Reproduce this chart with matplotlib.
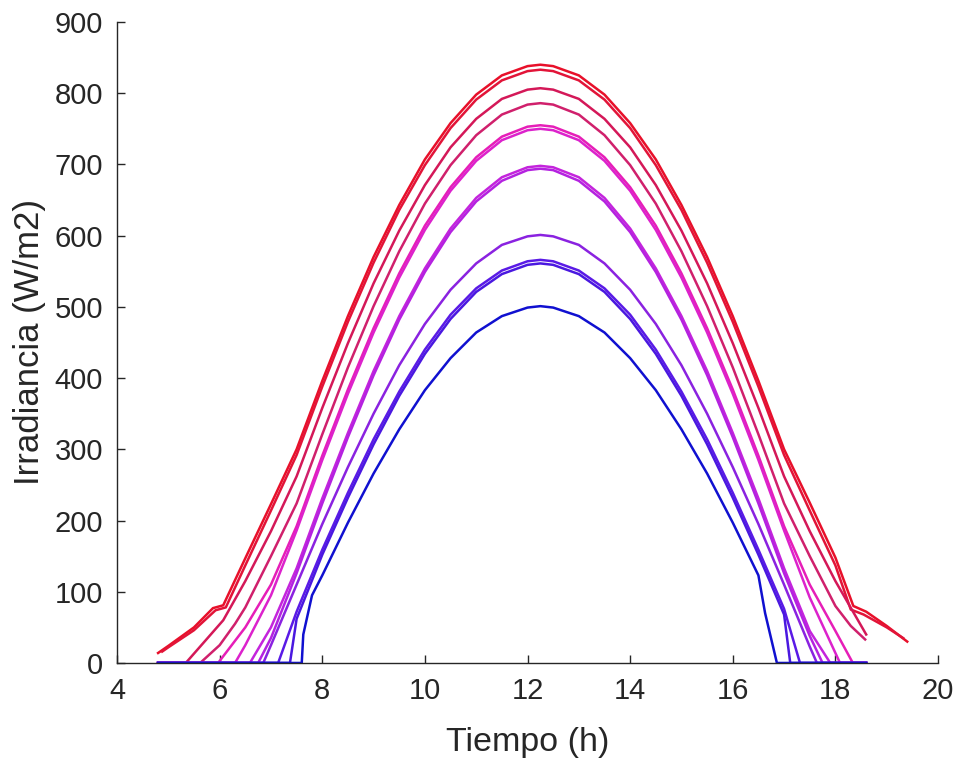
import numpy as np
import matplotlib
matplotlib.use("Agg")
import matplotlib.pyplot as plt

plt.rcParams['font.family'] = ['Liberation Sans', 'DejaVu Sans']

# hours shared by the central part of most curves
mid_hours = [8.0, 8.5, 9.0, 9.5, 10.0, 10.5, 11.0, 11.5, 12.0, 12.25, 12.5,
             13.0, 13.5, 14.0, 14.5, 15.0, 15.5, 16.0, 16.5, 17.0]

# curve with peak ~840 (red)
t_840 = [4.80, 5.00, 5.50, 5.87, 6.07, 6.50, 7.00, 7.50] + mid_hours + [17.50, 18.00, 18.35, 18.60, 19.00, 19.40]
g_840 = [14, 24, 50, 77, 81, 147, 223, 300,
         396, 487, 570, 643, 707, 758, 798, 825, 838, 840, 838, 825, 798, 758, 707, 643, 570, 487, 396, 300,
         225, 148, 80, 72, 52, 30]

t_833 = [4.88, 5.00, 5.50, 5.92, 6.12, 6.50, 7.00, 7.50] + mid_hours + [17.50, 18.00, 18.30, 18.55, 19.00, 19.32]
g_833 = [16, 22, 46, 74, 78, 137, 214, 292,
         388, 479, 562, 636, 699, 751, 791, 818, 831, 833, 831, 818, 791, 751, 699, 636, 562, 479, 388, 292,
         214, 137, 75, 68, 50, 35]

t_807 = [4.80, 5.34, 6.07, 6.50, 7.00, 7.50] + mid_hours + [17.50, 18.00, 18.60]
g_807 = [0, 0, 60, 115, 185, 262,
         358, 449, 533, 607, 671, 724, 764, 792, 805, 807, 805, 792, 764, 724, 671, 607, 533, 449, 358, 262,
         185, 115, 40]

t_786 = [4.80, 5.62, 6.00, 6.30, 6.50, 7.00, 7.50] + mid_hours + [17.50, 18.00, 18.30, 18.58]
g_786 = [0, 0, 25, 55, 78, 150, 224,
         321, 415, 501, 578, 645, 699, 741, 770, 784, 786, 784, 770, 741, 699, 645, 578, 501, 415, 321, 224,
         150, 80, 52, 33]

t_755 = [4.80, 5.97, 6.50, 7.00, 7.50] + mid_hours + [17.50, 18.00, 18.34, 18.60]
g_755 = [0, 0, 50, 110, 192,
         291, 384, 470, 547, 614, 668, 710, 739, 753, 755, 753, 739, 710, 668, 614, 547, 470, 384, 291, 192,
         110, 45, 0, 0]

t_750 = [4.80, 6.30, 6.50, 7.00, 7.50] + mid_hours + [17.50, 18.09, 18.60]
g_750 = [0, 0, 25, 95, 186,
         285, 378, 464, 541, 608, 663, 705, 734, 748, 750, 748, 734, 705, 663, 608, 541, 464, 378, 285, 186,
         92, 0, 0]

t_698 = [4.80, 6.59, 7.00, 7.50] + mid_hours + [17.50, 17.90, 18.60]
g_698 = [0, 0, 50, 133,
         231, 323, 410, 487, 554, 610, 653, 682, 696, 698, 696, 682, 653, 610, 554, 487, 410, 323, 231, 133,
         45, 0, 0]

t_694 = [4.80, 6.75, 7.00, 7.50] + mid_hours + [17.50, 17.75, 18.60]
g_694 = [0, 0, 35, 126,
         224, 317, 404, 482, 549, 605, 648, 677, 692, 694, 692, 677, 648, 605, 549, 482, 404, 317, 224, 126,
         38, 0, 0]

t_601 = [4.80, 6.85, 7.00, 7.50] + mid_hours + [17.50, 17.64, 18.60]
g_601 = [0, 0, 25, 110,
         195, 275, 350, 418, 476, 524, 561, 587, 599, 601, 599, 587, 561, 524, 476, 418, 350, 275, 195, 110,
         23, 0, 0]

t_566 = [4.80, 7.14, 7.50] + mid_hours + [17.31, 18.60]
g_566 = [0, 0, 72,
         159, 239, 314, 381, 440, 489, 526, 551, 564, 566, 564, 551, 526, 489, 440, 381, 314, 239, 159, 76,
         0, 0]

t_561 = [4.80, 7.37, 7.50] + mid_hours + [17.12, 18.60]
g_561 = [0, 0, 62,
         152, 232, 307, 375, 434, 483, 521, 546, 559, 561, 559, 546, 521, 483, 434, 375, 307, 232, 152, 68,
         0, 0]

t_501 = [4.80, 7.60, 7.63, 7.80] + mid_hours[:-1] + [16.63, 16.86, 18.60]
g_501 = [0, 0, 40, 95,
         123, 197, 266, 328, 383, 428, 464, 487, 499, 501, 499, 487, 464, 428, 383, 328, 266, 197, 123,
         70, 0, 0]

curves = [(t_840, g_840, '#e8102a'), (t_833, g_833, '#e21438'),
          (t_807, g_807, '#d41858'), (t_786, g_786, '#d0206c'),
          (t_755, g_755, '#e61eb8'), (t_750, g_750, '#dc22cc'),
          (t_698, g_698, '#c424dc'), (t_694, g_694, '#b422e0'),
          (t_601, g_601, '#8a22e0'), (t_566, g_566, '#5a1ae6'),
          (t_561, g_561, '#4a18e0'), (t_501, g_501, '#1010d0')]

fig = plt.figure(figsize=(9.6, 7.63), dpi=100)
ax = fig.add_axes([0.1219, 0.1311, 0.9771 - 0.1219, 0.9712 - 0.1311])

for t, g, col in curves:
    ax.plot(t, g, color=col, lw=1.8, solid_joinstyle='round')

ax.set_xlim(4, 20)
ax.set_ylim(0, 900)
ax.set_xticks(np.arange(4, 21, 2))
ax.set_yticks(np.arange(0, 901, 100))

for s in ['top', 'right']:
    ax.spines[s].set_visible(False)
for s in ['left', 'bottom']:
    ax.spines[s].set_color('#262626')
    ax.spines[s].set_linewidth(1.0)

ax.tick_params(direction='in', length=6, width=1.0, colors='#262626',
               labelsize=21, pad=10)
ax.set_xlabel("Tiempo (h)", fontsize=24.5, color='#262626', labelpad=16)
ax.set_ylabel("Irradiancia (W/m2)", fontsize=25, color='#262626', labelpad=6)

plt.savefig("out.png", dpi=100)
